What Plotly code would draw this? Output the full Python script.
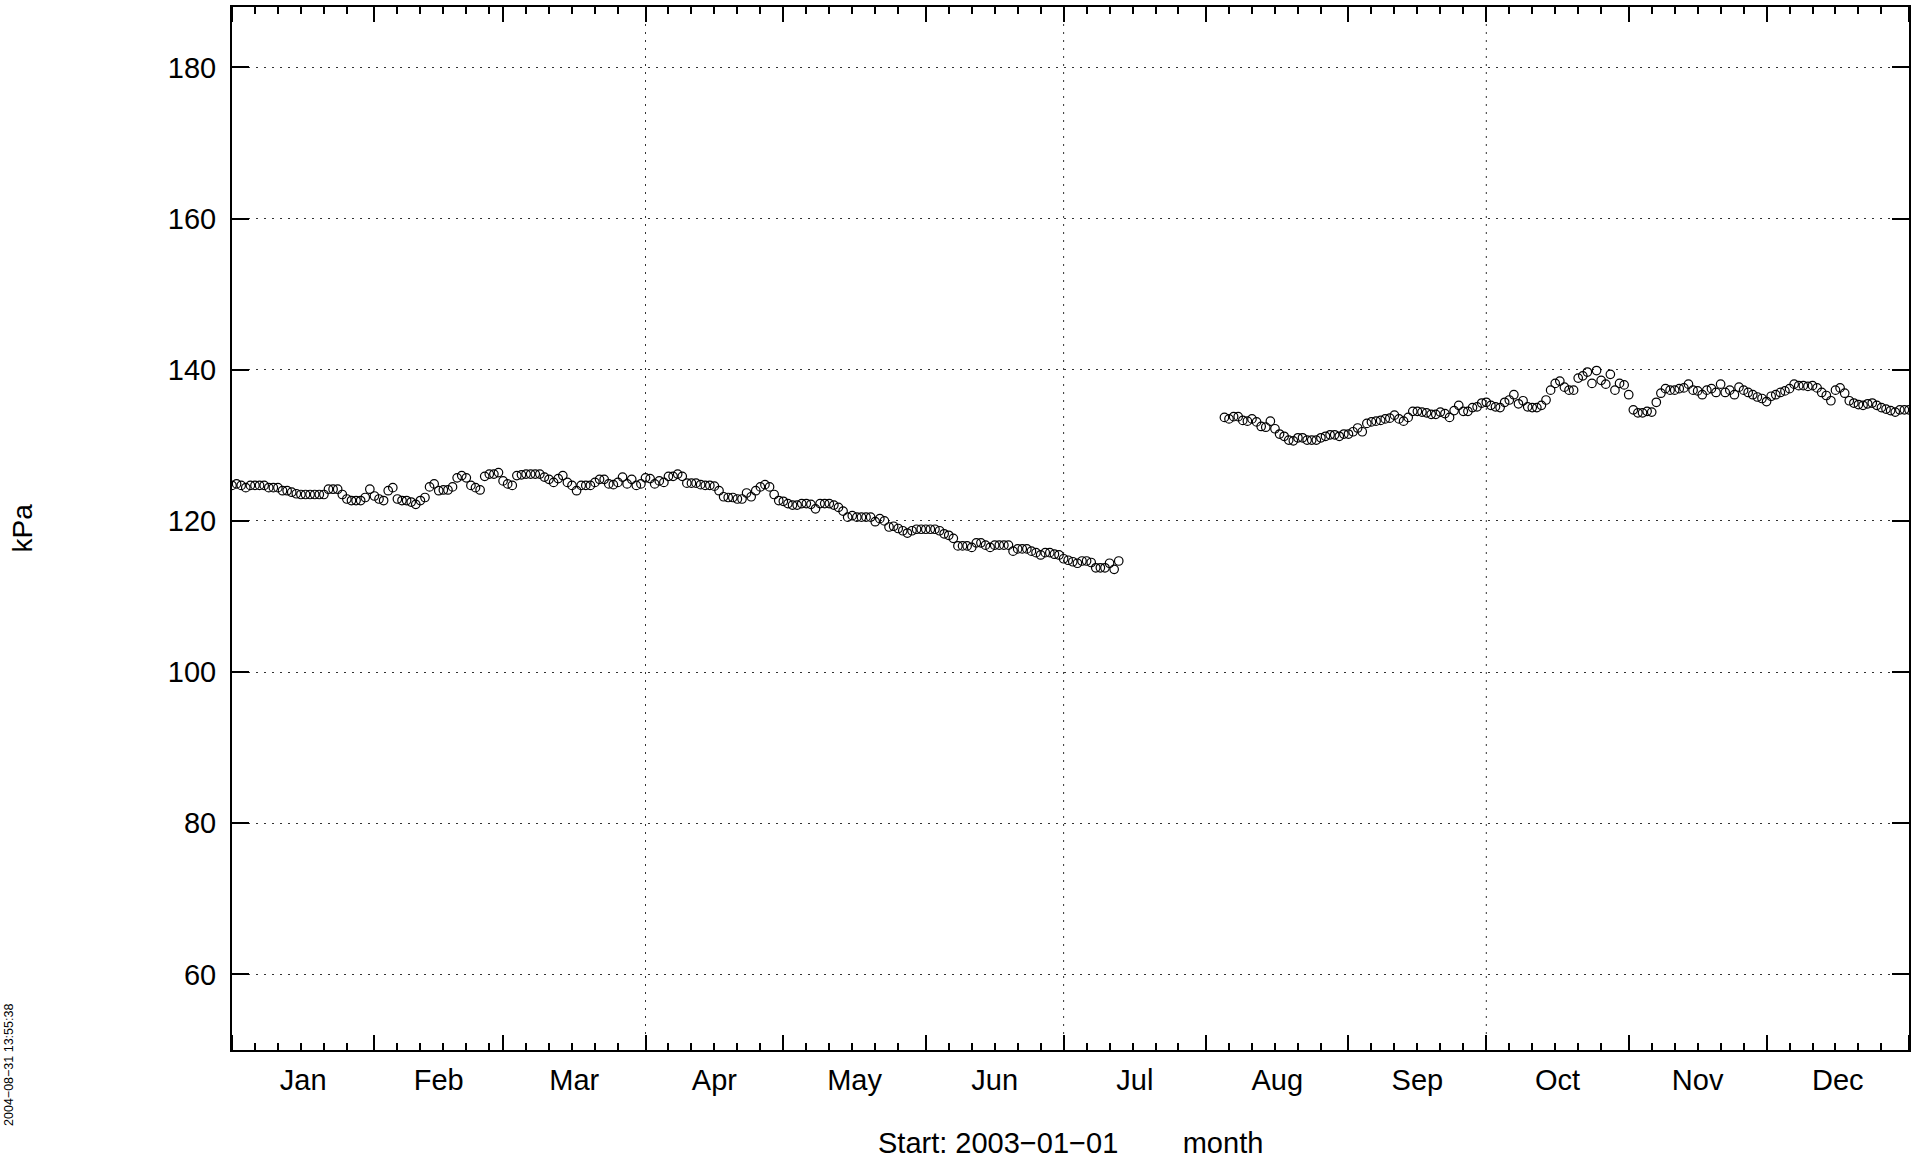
import pandas as pd
import plotly.graph_objects as go

# ---- data (kPa, daily) ----
seg1_start = "2003-01-01"
seg1_values = [
    124.7, 124.9, 124.7, 124.4, 124.7, 124.7, 124.7, 124.7, 124.4, 124.4,
    124.4, 124.0, 124.0, 123.8, 123.6, 123.5, 123.5, 123.5, 123.5, 123.5,
    123.5, 124.2, 124.2, 124.2, 123.5, 122.9, 122.7, 122.7, 122.7, 123.1,
    124.2, 123.3, 122.9, 122.7, 124.0, 124.4, 122.9, 122.7, 122.7, 122.5,
    122.2, 122.7, 123.1, 124.5, 124.9, 124.0, 124.1, 124.1, 124.5, 125.7,
    126.0, 125.7, 124.7, 124.4, 124.1, 125.9, 126.2, 126.2, 126.4, 125.3,
    124.9, 124.7, 126.0, 126.1, 126.2, 126.2, 126.2, 126.2, 125.8, 125.5,
    125.1, 125.6, 126.0, 125.1, 124.7, 124.0, 124.7, 124.7, 124.7, 125.1,
    125.5, 125.5, 124.9, 124.8, 125.1, 125.8, 124.9, 125.5, 124.7, 124.9,
    125.7, 125.6, 124.9, 125.3, 125.1, 125.9, 125.9, 126.2, 125.9, 125.0,
    125.0, 125.0, 124.8, 124.7, 124.7, 124.6, 124.0, 123.2, 123.1, 123.1,
    122.9, 122.9, 123.7, 123.2, 124.0, 124.5, 124.8, 124.5, 123.5, 122.7,
    122.6, 122.3, 122.1, 122.1, 122.3, 122.3, 122.2, 121.6, 122.3, 122.3,
    122.3, 122.1, 121.8, 121.3, 120.5, 120.7, 120.5, 120.5, 120.5, 120.5,
    119.9, 120.3, 120.0, 119.2, 119.3, 119.0, 118.7, 118.4, 118.7, 118.9,
    118.9, 118.9, 118.9, 118.9, 118.7, 118.3, 118.1, 117.7, 116.7, 116.7,
    116.7, 116.5, 117.1, 117.1, 116.8, 116.5, 116.8, 116.8, 116.8, 116.8,
    116.0, 116.3, 116.3, 116.3, 116.0, 115.8, 115.5, 115.8, 115.8, 115.6,
    115.5, 115.0, 114.8, 114.6, 114.4, 114.7, 114.7, 114.5, 113.8, 113.8,
    113.8, 114.4, 113.6, 114.7,
]
seg2_start = "2003-08-05"
seg2_values = [
    133.7, 133.5, 133.8, 133.8, 133.3, 133.2, 133.5, 133.1, 132.5, 132.4,
    133.2, 132.2, 131.5, 131.2, 130.7, 130.6, 131.0, 131.0, 130.7, 130.7,
    130.7, 131.0, 131.2, 131.4, 131.4, 131.2, 131.5, 131.5, 131.8, 132.3,
    131.8, 132.9, 133.1, 133.2, 133.3, 133.5, 133.6, 134.0, 133.5, 133.2,
    133.7, 134.5, 134.5, 134.4, 134.3, 134.1, 134.1, 134.4, 134.2, 133.7,
    134.6, 135.3, 134.5, 134.5, 135.0, 135.1, 135.6, 135.7, 135.3, 135.1,
    135.0, 135.7, 136.0, 136.7, 135.5, 135.9, 135.1, 135.0, 135.0, 135.3,
    136.0, 137.3, 138.2, 138.5, 137.7, 137.3, 137.3, 138.9, 139.2, 139.7,
    138.2, 139.9, 138.6, 138.1, 139.4, 137.3, 138.2, 138.0, 136.7, 134.7,
    134.3, 134.3, 134.5, 134.4, 135.7, 136.9, 137.5, 137.3, 137.3, 137.5,
    137.6, 138.1, 137.3, 137.2, 136.7, 137.3, 137.5, 137.0, 138.1, 137.0,
    137.3, 136.7, 137.7, 137.3, 137.0, 136.7, 136.4, 136.2, 135.8, 136.5,
    136.7, 137.0, 137.2, 137.5, 138.1, 137.9, 137.9, 137.8, 137.9, 137.6,
    137.0, 136.6, 135.9, 137.3, 137.6, 136.9, 135.9, 135.6, 135.4, 135.3,
    135.5, 135.6, 135.3, 135.0, 134.8, 134.6, 134.4, 134.7, 134.7, 134.7,
]

y_ticks = [60, 80, 100, 120, 140, 160, 180]
x_range = ["2003-01-01", "2004-01-01"]
grid_dates = ["2003-04-01", "2003-07-01", "2003-10-01"]
minor_days = [6, 11, 16, 21, 26]
x_title = "Start: 2003\u221201\u221201" + "\u00a0" * 8 + "month"
y_title = "kPa"
stamp = "2004\u221208\u221231 13:55:38"

# ---- build ----
dates = list(pd.date_range(seg1_start, periods=len(seg1_values), freq="D")) + \
        list(pd.date_range(seg2_start, periods=len(seg2_values), freq="D"))
values = seg1_values + seg2_values

minor_ticks = [f"2003-{m:02d}-{d:02d}" for m in range(1, 13) for d in minor_days]

FONT = "Liberation Sans, Arial, Helvetica, sans-serif"
GRID = "#333333"
DASH = "2px,6px"

fig = go.Figure()
fig.add_trace(go.Scatter(
    x=dates, y=values, mode="markers",
    marker=dict(symbol="circle-open", size=8.5, color="black", line=dict(width=1.2, color="black")),
    showlegend=False, hoverinfo="x+y",
))

shapes = [
    dict(type="line", xref="x", yref="paper", x0=d, x1=d, y0=0, y1=1, layer="below",
         line=dict(color=GRID, width=1, dash=DASH))
    for d in grid_dates
]

fig.update_layout(
    width=1923, height=1168,
    margin=dict(l=232, r=14, t=5, b=118, pad=0),
    paper_bgcolor="white", plot_bgcolor="white",
    font=dict(family=FONT, size=29, color="black"),
    shapes=shapes,
    xaxis=dict(
        type="date", range=x_range,
        tickmode="linear", tick0="2003-01-01", dtick="M1",
        tickformat="%b", ticklabelmode="period",
        ticks="inside", ticklen=15, tickwidth=1.5, tickcolor="black",
        showgrid=False, zeroline=False,
        showline=True, linewidth=2, linecolor="black", mirror="allticks",
        tickfont=dict(size=29), ticklabelstandoff=3,
        minor=dict(tickmode="array", tickvals=minor_ticks, ticks="inside",
                   ticklen=7, tickwidth=1.5, tickcolor="black", showgrid=False),
    ),
    yaxis=dict(
        range=[50, 188], tickmode="array", tickvals=y_ticks,
        ticks="inside", ticklen=17, tickwidth=1.5, tickcolor="black",
        showgrid=True, gridcolor=GRID, gridwidth=1, griddash=DASH,
        zeroline=False,
        showline=True, linewidth=2, linecolor="black", mirror="allticks",
        tickfont=dict(size=29), ticklabelstandoff=8,
    ),
    annotations=[
        dict(text=y_title, xref="paper", yref="paper", x=-0.1252, y=0.5,
             xanchor="center", yanchor="middle", textangle=-90, showarrow=False,
             font=dict(size=28)),
        dict(text=x_title, xref="paper", yref="paper", x=0.5, y=-0.089,
             xanchor="center", yanchor="middle", showarrow=False,
             font=dict(size=29)),
        dict(text=stamp, xref="paper", yref="paper", x=-0.133, y=-0.0144,
             xanchor="center", yanchor="middle", textangle=-90, showarrow=False,
             font=dict(size=12.5)),
    ],
)

fig.write_html("out.html", config={"displayModeBar": False},
               post_script="document.body.style.margin='0';document.body.style.overflow='hidden';")
